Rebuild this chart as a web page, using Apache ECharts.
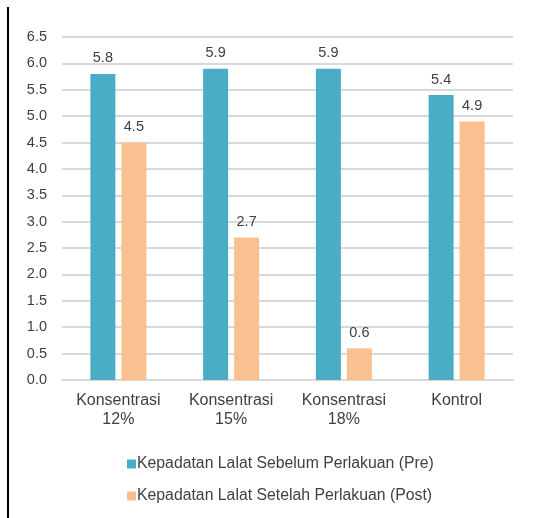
<!DOCTYPE html>
<html><head><meta charset="utf-8">
<script src="https://cdn.jsdelivr.net/npm/echarts@6/dist/echarts.min.js"></script>
<style>html,body{margin:0;padding:0;background:#fff}#c{width:536px;height:518px}
#bar{position:absolute;left:7px;top:7px;width:2px;height:511px;background:#000}</style>
</head><body><div id="bar"></div><div id="c"></div>
<script>
const categories = ['Konsentrasi\n12%', 'Konsentrasi\n15%', 'Konsentrasi\n18%', 'Kontrol'];
const preValues = [5.8, 5.9, 5.9, 5.4];
const postValues = [4.5, 2.7, 0.6, 4.9];
const seriesNames = ['Kepadatan Lalat Sebelum Perlakuan (Pre)', 'Kepadatan Lalat Setelah Perlakuan (Post)'];
const chart = echarts.init(document.getElementById('c'));
const font = 'Liberation Sans, Arial, sans-serif';
chart.setOption({
  animation: false,
  textStyle: {fontFamily: font},
  grid: {left: 62, right: 23, top: 37, bottom: 138, containLabel: false},
  xAxis: {type: 'category', data: categories,
    axisLine: {show: true, lineStyle: {color: '#d9d9d9', width: 2}},
    axisTick: {show: false},
    axisLabel: {color: '#404040', fontSize: 16, fontFamily: font, lineHeight: 19, margin: 11}},
  yAxis: {type: 'value', min: 0, max: 6.5, interval: 0.5,
    axisLine: {show: false}, axisTick: {show: false},
    splitLine: {lineStyle: {color: '#d9d9d9', width: 2}},
    axisLabel: {color: '#404040', fontSize: 14.5, fontFamily: font, margin: 15,
      formatter: v => v.toFixed(1)}},
  legend: {orient: 'vertical', left: 122, top: 451, itemGap: 16, itemWidth: 9, itemHeight: 9,
    icon: 'rect', textStyle: {color: '#404040', fontSize: 15.8, fontFamily: font, padding: [0,0,0,-4]}},
  series: [
    {name: seriesNames[0], type: 'bar', data: preValues, barWidth: 25, barGap: '24%',
     itemStyle: {color: '#4bacc6'},
     label: {show: true, position: 'top', distance: 8, color: '#404040', fontSize: 14.5, fontFamily: font, formatter: p => p.value.toFixed(1)}},
    {name: seriesNames[1], type: 'bar', data: postValues, barWidth: 25,
     itemStyle: {color: '#fac090'},
     label: {show: true, position: 'top', distance: 8, color: '#404040', fontSize: 14.5, fontFamily: font, formatter: p => p.value.toFixed(1)}}
  ]
});
</script></body></html>
